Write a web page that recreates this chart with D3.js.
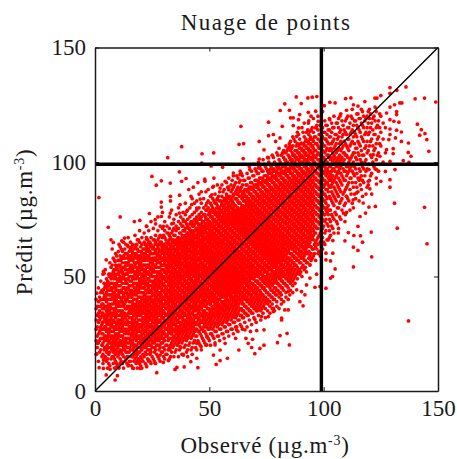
<!DOCTYPE html>
<html><head><meta charset="utf-8">
<script src="https://cdn.jsdelivr.net/npm/d3@7"></script>
<style>
html,body{margin:0;padding:0;background:#fff}
svg{display:block}
text{font-family:"Liberation Serif",serif;fill:#1a1a1a}
</style></head><body><svg id="c" width="457" height="459"></svg>
<script>
const titleText = "Nuage de points";
const xLabel = "Observé (µg.m";
const yLabel = "Prédit (µg.m";
const tickValues = [0, 50, 100, 150];
const thresholds = [99];

// isolated points
const fringeObserved = [37.9,31.8,46.8,51.9,1.7,24.9,36.9,29,26.8,32.9,37.9,39.8,46.7,50.8,55.8,48,52,45,41,43,11,17.2,19.6,23.8,5.8,29,29,33,33,37,42,46.5,
88,93.1,95,97,90.2,83,85,81,63.8,75.9,81.9,63,65,71.8,73.9,75.9,78,64.8,71.8,75.9,79,85.5,86.7,89.5,89,93.3,96.5,97.6,93.3,89,86.7,
129,129,132,136,140,144.1,149,125,122.4,123.3,131,129,133.3,134.2,131.9,131.9,127.5,129,130.7,132.9,141,142.7,142,144.3,145.1,146,129,131.9,134,129,131.4,128.5,134,137.1,130.4,137,138.2,134.8,137.3,129,130.4,124.6,121.7,127.5,
109.6,111.9,102.7,105,100.3,118,115,113,110,107.1,102.7,
129,129,125,123.1,120.2,131.2,127,123.1,119.8,131,144.1,122.6,119.8,118.3,132.2,115.9,115,109.3,105.6,
145.2,137.1,121,113,105,103,103.9,117,115,113,109.3,120.8,113.2,116.1,110.8,106.4,104,103,101,101,104,102,
101,98.4,96.2,94,96.9,91.8,89.6,91,85.2,85,84,80.9,79.8,73.9,73.9,72.1,69.9,68.5,67,62.9,68.9,61.5,66,84.5,81.6,78,75.8,69.9,64.1,70.7,68,
8.8,9.8,4.9,1.8,0.8,27,35,35.8,39,45,53,54.7,57.9,51.8,41.9,38.7,44.5,46.4,48.9,54.7,52.5,56.9,19.7,22.6,26.3,29.9,32.1,14.6,9.5,6.6,3.7,11,16.8,23.4,
0.8,4.9,3.7,4,7,8,11.7,12.9,14.2,18.3,19,22.6,10.2,8.8,8.1,1.5,1.9,1.1,2.2,3.7,5.9,2.5,
29,32.9,36.9,40.1,44.5,48.9,53.3,57.6,42.3,37.2,46,51.1,54.7,48.1,51.8,56.9,58.4,26.3,29.9,22.6,34.3,38.7,
60.5,63.4,67.7,71.4,76.5,82.3,80.9,85.2,88.2,90.3,94,96.9,
112.9,108.6,117.3,114.4,110,119.5,115.9,
94,90.3,88.2,84.5,80.9,83,73.6,78,72.8,81.6,65.6,61.9,92.5,
37.2,40.9,44.5,48.9,32.8,28.5,24.1,19.7,8.1,3.7,5.9];
const fringePredicted = [106.7,101.9,103.6,104,84.5,93.7,95.7,91.8,89.9,90.8,91.6,92.8,99.5,98.3,97.7,92.5,93,91,88,89,76,74,74.5,77.5,71.5,82.5,80.3,85,83,85.5,85,87,
128.4,128,128.3,128.6,125.5,125.4,122.6,122.5,115.6,117.4,115.6,107.7,108,109,105.3,111.5,112,101.5,101.3,101.8,109,119.3,119.3,120.7,118.5,121.7,122.2,117.8,117,114.9,115.9,
132.5,130,131.3,132.8,127.6,127.9,126.2,129,127.9,127.9,125,124,125.8,125.8,122,120.7,121.4,118.5,117.8,117.4,116.5,114.1,111.7,112.4,109.8,104.7,114.4,113.9,113.1,112,110.5,109.8,109,108.3,105.8,104.2,102.5,100.6,99.9,100.3,103.7,102.5,103.2,105.4,
127.7,128,126.1,125.8,124.6,126.4,124.4,125,122.6,120,118.5,
92.3,89,91.6,90.4,88.3,96.7,95.9,96.7,96.7,82,80.2,80.6,80.3,77.7,71.1,76.2,71.9,74,74,
64.3,30.6,58.6,54.2,53.3,49.3,50,65,61.4,62.8,65.6,69.4,67.9,67.8,69.2,69,60.2,56.8,57.3,60.2,65.7,66,
44.9,45.6,45.3,49.3,51,42,39,37.2,42,20.1,25.2,24.2,21.1,26.7,20,18.6,16.3,19,20.8,17.9,22.6,23,23,35.4,31,34.7,32.5,31.3,28.1,26.4,26,
4.8,6.7,7,10.2,16.2,8,9.4,10.3,10.5,10.2,11.6,13.3,14.3,15.7,12.8,15.7,14.3,19.4,20.1,17.9,20.1,20.8,9.9,10.6,12.1,12.5,13.3,11.4,10.6,9.5,9.9,12.1,9.9,13.6,
42.7,57.3,52.2,51.4,66,64.9,65.6,66.8,63.6,63.8,66,66.3,60.9,56.6,52.2,36.9,32.5,20.8,26.7,44.2,46.3,39.8,
76.2,77.7,77.7,78.4,79.9,82.1,83.5,85,81.4,81.4,83.8,85.7,88.6,91.6,89.4,91.6,87.9,74.8,71.9,71.9,73.3,74.1,
95.2,94.5,96.7,97.4,96.7,103.9,110.5,106.9,111.2,108.3,113.4,114.9,
83.5,77.7,82.1,86.5,85,91.6,93,
55.1,43.4,44.2,43.4,42.7,35.4,36.9,36.1,32.5,31.8,26.7,26.7,46.3,
19.4,23.7,20.8,23.7,17.9,15.7,16.5,12.8,15,13.5,16.5];

// dense cloud: individual points cannot be resolved here, so values are hand estimates by observed value
const coreObserved = [1,2,3,4,5,6,7,8,9,10,11,12,13,14,15,16,17,18,19,20,21,22,23,24,25,26,27,28,29,30,31,32,33,34,35,36,37,38,39,40,41,42,43,44,45,46,47,48,49,50,51,52,53,54,55,56,57,58,59,60,61,62,63,64,65,66,67,68,69,70,71,72,73,74,75,76,77,78,79,80,81,82,83,84,85,86,87,88,89,90,91,92,93,94,95,96,97,98,99,100,101,102,103,104,105,106,107,108,109,110,111,112,113,114,115,116,117,118,119,120,121,122,123,124,125,126,127];
const corePredicted = [
[19,24,28,33,37],[17,22,26,31,35,41],[15,20,25,29,34,38,44],[14,18,23,27,32,36,41,47],[13,17,22,26,30,35,39,43,49],
[12,16,21,25,29,33,38,42,46,51],[14,19,24,28,32,36,40,45,49,54],[12,17,22,26,30,34,38,43,47,52,58],[13,16,20,25,28,32,36,41,45,50,55,60],[11,15,19,23,27,31,35,39,44,48,53,57],
[14,18,22,26,29,33,37,41,46,50,55,59,63],[12,16,20,24,28,32,35,39,43,47,52,56,61],[13,18,21,25,30,34,38,41,45,49,54,58,62],[12,15,19,23,27,31,36,40,43,47,51,56,60],[13,17,21,25,28,32,35,39,42,46,50,53,57,61],
[11,15,20,24,27,30,34,37,41,44,48,52,55,59,63],[13,16,19,23,26,29,33,36,40,43,47,50,54,58,62],[12,15,18,22,25,28,32,35,38,42,45,49,52,56,60,64],[14,17,21,24,27,31,34,37,41,44,47,51,54,57,61],[11,15,19,22,26,29,33,36,39,43,46,49,53,56,59,63],
[13,16,20,23,27,30,32,35,38,41,45,48,51,55,58,62],[12,17,21,24,28,31,34,37,40,42,46,50,53,57,60,64],[14,18,22,25,27,30,33,36,39,43,47,49,52,55,59,62,66],[13,16,20,23,26,29,32,35,38,41,44,48,51,54,58,61,65],[15,19,22,26,28,31,34,37,40,43,46,50,53,56,60,63],
[13,17,21,24,27,30,33,36,39,42,45,48,52,55,58,62,66],[16,20,23,26,29,32,35,38,41,44,47,50,54,57,60,64],[14,18,22,25,28,31,34,37,40,43,46,49,52,56,59,62,67],[17,21,24,27,30,33,36,39,42,45,48,51,55,58,61,65],[15,19,23,26,29,32,35,38,41,44,47,50,53,57,60,63,68],
[16,20,24,27,30,33,36,39,42,45,48,52,55,58,62,66],[18,22,25,28,31,34,37,40,43,46,49,52,55,58,61,64,69],[15,20,23,27,30,33,36,39,42,45,48,51,54,57,60,63,67],[19,22,26,29,32,35,38,41,44,47,50,53,56,59,62,65,70],[17,21,24,27,31,34,37,40,43,46,49,52,55,58,61,64,68],
[20,23,26,30,33,36,39,42,45,48,51,54,57,60,63,66,71],[18,22,25,28,32,35,38,41,44,47,50,53,56,59,62,65,69],[16,21,24,27,30,34,37,40,43,46,49,52,55,58,61,64,67,72],[19,23,26,29,33,36,39,42,45,48,51,54,57,60,63,66,70],[17,22,25,28,31,35,38,41,44,47,50,53,56,59,62,65,68,73],
[20,24,27,30,34,37,40,43,46,49,52,55,58,61,64,67,71],[18,23,26,29,32,36,39,42,45,48,51,54,57,60,63,66,69,74],[21,25,28,31,35,38,41,44,47,50,53,56,59,62,65,68,72],[19,24,27,30,33,37,40,43,46,49,52,55,58,61,64,67,70,75],[22,26,29,32,36,39,42,45,48,51,54,57,60,63,66,69,73],
[20,25,28,31,34,38,41,44,47,50,53,56,59,62,65,68,71,76],[23,27,30,33,37,40,43,46,49,52,55,58,61,64,67,70,74],[21,26,29,32,35,39,42,45,48,51,54,57,60,63,66,69,72,77],[24,28,31,34,38,41,44,47,50,53,56,59,62,65,68,71,75,79],[22,27,30,33,36,40,43,46,49,52,55,58,61,64,67,70,73,78],
[25,29,32,35,39,42,45,48,51,54,57,60,63,66,69,72,76,81],[23,28,31,34,37,41,44,47,50,53,56,59,62,65,68,71,74,79,83],[26,30,33,36,40,43,46,49,52,55,58,61,64,67,70,73,77,82],[24,29,32,35,38,42,45,48,51,54,57,60,63,66,69,72,75,80,85],[27,31,34,37,41,44,47,50,53,56,59,62,65,68,71,74,78,83],
[25,30,33,36,39,43,46,49,52,55,58,61,64,67,70,73,76,81,87],[28,32,35,38,42,45,48,51,54,57,60,63,66,69,72,75,79,84],[26,31,34,37,40,44,47,50,53,56,59,62,65,68,71,74,77,82,89],[29,33,36,39,43,46,49,52,55,58,61,64,67,70,73,76,80,85],[27,32,35,38,41,45,48,51,54,57,60,63,66,69,72,75,78,83,88,92],
[30,34,37,40,44,47,50,53,56,59,62,65,68,71,74,77,81,86,90],[28,33,36,39,42,46,49,52,55,58,61,64,67,70,73,76,79,84,88,94],[31,35,38,41,45,48,51,54,57,60,63,66,69,72,75,78,82,87,91],[33,36,40,43,47,50,53,56,59,62,65,68,71,74,77,80,85,89,95],[32,35,38,42,45,49,52,55,58,61,64,67,70,73,76,79,83,87,92],
[34,37,41,44,48,51,54,57,60,63,66,69,72,75,78,81,85,90],[33,36,39,43,46,50,53,56,59,62,65,68,71,74,77,80,83,88,93],[35,38,42,45,49,52,55,58,61,64,67,70,73,76,79,82,86,91],[34,37,40,44,47,51,54,57,60,63,66,69,72,75,78,81,84,89,94],[36,39,43,46,50,53,56,59,62,65,68,71,74,77,80,83,87,92,97],
[35,38,41,45,48,52,55,58,61,64,67,70,73,76,79,82,85,90,95],[37,40,44,47,51,54,57,60,63,66,69,72,75,78,81,84,88,93,98],[36,39,42,46,49,53,56,59,62,65,68,71,74,77,80,83,86,91,96],[38,41,45,48,52,55,58,61,64,67,70,73,76,79,82,85,89,94,99],[40,43,47,50,54,57,60,63,66,69,72,75,78,81,84,87,92,97],
[39,42,46,49,53,56,59,62,65,68,71,74,77,80,83,86,90,95,100],[41,44,48,51,55,58,61,64,67,70,73,76,79,82,85,88,93,98],[40,43,47,50,54,57,60,63,66,69,72,75,78,81,84,87,91,96,102],[42,45,49,52,56,59,62,65,68,71,74,77,80,83,86,89,94,99],[44,47,51,54,58,61,64,67,70,73,76,79,82,85,88,92,97,103],
[43,46,50,53,57,60,63,66,69,72,75,78,81,84,87,90,95,100],[45,48,52,55,59,62,65,68,71,74,77,80,83,86,89,93,98,104],[47,50,54,57,61,64,67,70,73,76,79,82,85,88,91,96,101],[46,49,53,56,60,63,66,69,72,75,78,81,84,87,90,94,99,105],[48,51,55,58,62,65,68,71,74,77,80,83,86,89,92,97,102,108],
[50,53,57,60,64,67,70,73,76,79,82,85,88,91,95,100,106],[49,52,56,59,63,66,69,72,75,78,81,84,87,90,93,98,103,110],[51,55,58,62,65,68,71,74,77,80,83,86,89,92,96,101,107],[53,57,60,64,67,70,73,76,79,82,85,88,91,94,99,104,112],[52,56,59,63,66,69,72,75,78,81,84,87,90,93,97,102,108],
[55,58,62,65,68,71,74,77,80,83,86,89,92,95,100,105,113],[54,57,61,64,67,70,73,76,79,82,85,88,91,94,98,103,109],[56,60,63,66,69,72,75,78,81,84,87,90,93,96,101,106,114],[55,59,65,68,71,74,77,80,83,86,89,92,95,99,104,110],[58,62,67,70,73,76,79,82,85,88,91,94,97,102,107,115],
[60,64,69,72,75,78,81,84,87,90,93,96,100,105,111],[62,66,71,74,77,80,83,86,89,92,95,98,103,108,116],[61,68,73,76,79,82,85,88,91,94,97,101,106,112],[63,70,75,78,81,84,87,90,93,96,99,104,109,117],[65,72,77,80,83,86,89,92,95,98,102,107,113],
[70,75,79,82,85,88,91,94,97,100,105,110,116],[72,77,81,87,90,93,96,99,103,108,114],[68,74,79,84,89,92,95,98,101,106,111],[71,76,82,86,91,94,97,100,104,109,115],[78,84,88,93,96,99,102,107,112],
[73,80,86,90,95,98,101,105,110,117],[76,82,88,92,97,100,103,108,113],[79,84,90,94,99,102,106,111,118],[81,87,92,96,101,104,109,114],[78,85,89,94,98,103,107,112,119],
[83,91,96,100,105,110,115],[86,93,98,102,108,113,120],[80,89,95,100,104,111,116],[84,91,97,102,106,112,118],[87,93,99,104,109,115,121],
[90,96,101,107,113,119],[85,92,98,103,110,116,122],[94,100,106,112,118],[89,97,104,109,115,120],[92,99,107,113,119,123],
[86,95,102,110,117],[98,105,112,120],[93,101,108,115,122],[96,104,111,118],[107,113,120],[100,110,117],[104,115]];

// second hand-estimated layer of the dense cloud, between the columns above
const fillObserved = [0.5,1.5,2.5,3.5,4.5,5.5,6.5,7.5,8.5,9.5,10.5,11.5,12.5,13.5,14.5,15.5,16.5,17.5,18.5,19.5,20.5,21.5,22.5,23.5,24.5,25.5,26.5,27.5,28.5,29.5,30.5,31.5,32.5,33.5,34.5,35.5,36.5,37.5,38.5,39.5,40.5,41.5,42.5,43.5,44.5,45.5,46.5,47.5,48.5,49.5,50.5,51.5,52.5,53.5,54.5,55.5,56.5,57.5,58.5,59.5,60.5,61.5,62.5,63.5,64.5,65.5,66.5,67.5,68.5,69.5,70.5,71.5,72.5,73.5,74.5,75.5,76.5,77.5,78.5,79.5,80.5,81.5,82.5,83.5,84.5,85.5,86.5,87.5,88.5,89.5,90.5,91.5,92.5,93.5,94.5,95.5,96.5,97.5,98.5,99.5,100.5,101.5,102.5,103.5,104.5,105.5,106.5,107.5,108.5,109.5,110.5,111.5,112.5,113.5,114.5,115.5,116.5,117.5,118.5,119.5,120.5,121.5,122.5,123.5,124.5];
const fillPredicted = [
[16,22,27,31,36,40],[13,21,25,30,34,39,45],[18,23,28,32,37,43,48],[12,16,21,25,30,34,38,44,51],[15,19,24,28,33,37,41,46,53],
[10,14,19,23,27,31,36,40,44,48],[11,17,21,26,30,34,37,42,47,51,56],[15,20,24,28,33,36,41,45,50,55,62],[10,14,18,23,27,30,35,39,43,46,51,57],[12,17,21,25,29,33,37,42,46,51,54,59],
[10,16,20,24,28,31,35,38,43,48,52,57,64],[13,17,21,24,30,34,37,40,44,49,53,58,62],[10,15,19,23,27,30,33,37,42,45,50,54,59,65],[14,17,22,26,29,33,36,39,44,48,51,55,60,64],[11,15,19,23,26,30,34,37,41,45,49,52,56,59,63,67],
[13,18,22,25,28,32,36,39,43,46,50,54,58,62,65],[10,15,18,21,25,28,31,35,38,42,46,49,53,57,60,64],[14,17,20,24,27,30,34,37,40,44,47,51,55,59,63,68],[10,13,16,19,23,26,29,33,36,39,43,46,50,53,56,59,62,66],[12,17,21,24,28,31,35,38,41,45,48,52,55,58,61,65,70],
[10,14,18,21,25,28,31,34,37,40,43,47,50,54,57,60,64,67],[15,19,23,26,29,32,36,39,42,45,49,52,55,59,62,65,69],[11,16,20,24,27,29,32,35,38,41,44,47,51,54,58,61,63,67,72],[13,18,21,25,28,31,34,37,40,43,46,49,52,55,59,62,65,70],[12,17,20,23,26,29,33,36,39,41,44,48,51,54,57,60,64,67,74],
[14,19,22,25,28,32,35,38,42,45,47,50,53,57,60,63,66,71],[12,18,22,25,28,31,34,37,40,43,46,49,52,55,58,61,65,68,73],[15,20,24,27,30,33,36,39,42,45,48,51,54,57,60,63,66,70,76],[13,19,23,26,28,31,35,38,41,43,47,50,52,56,59,61,65,68,72],[17,21,25,28,32,34,37,40,44,46,49,53,55,58,62,64,67,71,78],
[14,18,22,25,29,31,34,38,41,43,46,49,52,56,59,61,64,67,70,74],[16,20,24,27,30,33,36,38,41,44,48,50,53,57,60,62,65,69,72],[14,19,23,26,29,32,35,39,41,44,47,50,54,56,59,62,66,68,71,76],[17,21,25,28,31,34,37,40,43,46,49,52,55,58,60,63,66,69,73,79],[15,20,23,26,29,32,36,39,42,44,48,51,53,56,59,62,65,68,71,75],
[18,22,25,28,31,34,37,41,43,46,50,52,55,57,61,64,66,70,72,77],[15,21,24,27,30,33,37,40,42,45,47,51,54,56,59,62,65,67,71,74,80],[19,23,26,29,32,35,39,41,44,47,49,52,55,58,60,64,66,69,73,76],[16,22,25,28,31,34,38,40,43,46,50,53,56,59,61,63,67,70,72,75,78],[20,24,27,30,33,36,39,41,45,48,51,54,57,60,62,65,68,71,74,77,82],
[15,18,23,26,29,32,36,38,42,44,47,50,52,55,58,61,64,67,69,72,75,79],[21,25,28,31,33,37,40,43,45,49,51,54,56,59,62,66,68,70,73,76,80],[16,19,24,27,30,34,37,41,44,46,48,53,55,58,60,63,65,69,72,74,77,84],[22,26,29,32,35,38,40,43,47,50,52,56,59,61,64,67,70,73,75,78,82],[18,24,27,30,33,36,39,42,45,48,51,54,57,60,63,65,68,71,74,76,79,83],
[21,26,29,32,35,37,41,43,46,50,53,55,58,61,64,66,69,72,75,77,80,86],[18,24,27,30,33,36,39,42,45,47,51,54,56,59,62,65,68,70,73,76,78,82],[22,26,28,31,34,38,40,44,46,49,52,55,58,60,63,66,69,72,74,77,80,84],[20,25,28,30,33,37,41,43,45,48,50,53,57,59,62,64,67,71,73,75,79,81,87],[23,27,29,32,36,39,42,44,47,50,52,56,58,61,63,66,69,72,74,77,80,83,88],
[20,25,28,31,34,38,41,43,46,49,51,54,57,60,62,65,68,70,73,76,79,82,85],[24,27,30,33,36,40,42,45,48,50,53,56,59,61,64,67,69,72,75,78,80,84,89],[21,26,29,32,35,38,41,44,46,49,52,55,58,60,63,66,68,71,74,77,79,82,86],[24,28,31,34,37,39,43,45,48,51,54,57,59,62,65,67,70,73,76,78,81,84,90],[22,27,30,33,36,40,42,44,47,50,53,56,60,61,64,66,69,72,75,77,80,83,87],
[25,29,32,35,38,41,43,46,49,52,55,57,60,63,65,68,71,74,76,79,82,85,90],[23,28,31,34,37,39,42,45,48,51,54,58,59,62,66,67,70,73,75,78,81,84,88],[26,30,33,36,39,41,44,47,50,53,56,58,61,64,67,69,72,74,77,80,83,86,91],[24,29,32,35,38,42,43,46,49,52,55,57,60,63,65,68,71,73,76,79,82,85,89,93],[27,31,34,37,40,42,45,48,51,54,56,59,62,64,67,70,73,75,78,81,84,87,90],
[25,30,33,36,39,41,44,47,50,53,55,58,61,63,66,69,72,74,77,80,82,86,89,94],[28,32,35,38,41,43,46,49,52,54,57,60,62,65,68,71,73,76,79,81,84,87,91],[26,31,34,37,40,43,45,48,51,53,56,59,61,64,67,70,72,75,78,80,83,86,89,93],[29,33,36,39,42,44,47,50,52,55,58,60,63,66,69,71,74,77,79,82,85,88,92,96],[27,32,35,38,41,43,46,49,51,54,57,59,62,65,68,70,73,76,78,81,84,86,90,94],
[30,34,37,40,42,45,48,50,53,56,58,61,64,67,69,72,75,77,80,83,85,88,92],[28,33,36,39,41,44,47,49,52,55,57,60,63,66,68,71,74,76,79,82,84,87,90,95],[31,35,38,40,43,46,48,51,54,56,59,62,65,67,70,73,75,78,81,83,86,89,93,98],[29,34,37,39,42,45,47,50,53,55,58,61,64,66,69,72,74,77,80,82,85,88,91,96],[32,36,38,41,44,46,49,52,54,57,60,63,65,68,71,73,76,79,81,84,87,90,94,99],
[30,35,37,40,43,45,48,51,53,56,59,62,64,67,70,72,75,78,80,83,86,89,92,96],[33,36,39,42,44,47,50,52,55,58,61,63,66,69,71,74,77,79,82,85,88,91,95,100],[31,35,38,41,43,46,49,51,54,57,60,62,65,68,70,73,76,78,81,84,87,90,93,97],[34,37,40,42,45,48,50,53,56,59,61,64,67,69,72,75,77,80,83,86,89,92,96,101],[32,36,39,41,44,47,49,52,55,58,60,63,66,68,71,74,76,79,82,85,88,91,94,98],
[35,38,40,43,46,48,51,54,57,59,62,65,67,70,73,75,78,81,84,87,90,93,96,102],[34,37,39,42,45,47,50,53,56,58,61,64,66,69,72,74,77,80,83,86,89,92,95,99],[36,38,41,44,46,49,52,55,57,60,63,65,68,71,73,76,79,82,85,88,91,94,97,103],[35,40,43,45,48,51,54,56,59,62,64,67,70,72,75,78,81,84,87,90,93,96,100],[37,39,42,44,47,50,53,55,58,61,63,66,69,71,74,77,80,83,86,89,92,95,98,104],
[36,41,43,46,49,52,54,57,60,62,65,68,70,73,76,79,82,85,88,91,94,97,101,106],[38,40,42,45,48,51,53,56,59,61,64,67,69,72,75,78,81,84,87,90,93,96,99,103],[39,44,47,50,52,55,58,60,63,66,68,71,74,77,80,83,86,89,92,95,98,102,105],[41,43,46,49,51,54,57,59,62,65,67,70,73,76,79,82,85,88,91,94,97,100,104,107],[40,45,48,50,53,56,58,61,64,66,69,72,75,78,81,84,87,90,93,96,99,103,106],
[44,47,49,52,55,57,60,63,65,68,71,74,77,80,83,86,89,92,95,98,101,105,109],[43,46,48,51,54,56,59,62,64,67,70,73,76,79,82,85,88,91,94,97,100,103,107,111],[47,50,53,55,58,61,63,66,69,72,75,78,81,84,87,90,93,96,99,102,105,109],[49,52,54,57,60,62,65,68,71,74,77,80,83,86,89,92,95,98,101,104,108,113],[51,53,56,59,61,64,67,70,73,76,79,82,85,88,91,94,97,100,103,106,110],
[50,54,58,60,63,66,69,72,75,78,81,84,87,90,93,96,99,102,105,108,115],[53,57,59,62,65,68,71,74,77,80,83,86,89,92,95,98,101,104,107,111,117],[52,56,60,63,65,67,70,73,76,79,82,85,88,91,94,97,100,103,106,109,113],[58,61,64,66,69,72,75,78,81,84,87,90,93,96,99,102,105,108,112,118],[57,60,63,67,70,71,74,77,80,83,86,89,92,95,98,101,104,107,110,114,120],
[59,62,66,68,70,73,76,79,82,85,88,91,94,97,100,103,106,109,113,119],[57,63,65,69,72,75,78,81,84,87,90,93,96,99,102,105,108,111,115],[60,64,67,71,74,77,80,83,86,89,92,95,98,101,104,107,110,114,120],[59,65,69,73,76,79,82,85,88,91,94,97,100,103,106,109,112,116],[62,67,71,75,78,81,84,87,90,93,96,99,102,105,108,111,115,122],
[64,69,74,77,80,83,86,90,92,96,98,101,104,107,110,113,118],[66,73,78,80,84,88,91,95,97,100,103,106,109,112,116],[67,70,75,79,85,89,92,94,98,102,105,108,111,114,119],[72,77,83,87,90,93,96,99,102,105,108,113,117],[69,75,81,85,89,92,97,101,103,106,110,115,120],
[77,83,87,91,94,98,100,104,108,112,117],[71,80,85,89,93,96,99,102,106,111,115,119],[75,83,87,91,95,98,101,105,109,114,121],[86,93,97,100,104,107,112,116],[77,82,88,92,96,99,103,108,113,118],
[84,90,95,98,102,106,110,115,120],[79,88,93,97,101,107,112,117],[82,91,96,99,103,109,114,119,123],[86,94,98,104,108,113,118],[89,95,101,106,111,116,121],
[83,92,97,103,108,114,119],[88,94,100,105,111,117,123],[91,97,103,109,115,120],[86,96,101,107,113,119],[90,99,105,112,117,122],
[94,103,109,115,121],[100,107,114,119],[97,106,112,118,124],[103,110,116],[99,108,115,121]];

// third hand-estimated layer, closing the remaining gaps in the solid part of the cloud
const solidObserved = [3.25,4.25,5.25,6.25,7.25,8.25,9.25,10.25,11.25,12.25,13.25,14.25,15.25,16.25,17.25,18.25,19.25,20.25,21.25,22.25,23.25,24.25,25.25,26.25,27.25,28.25,29.25,30.25,31.25,32.25,33.25,34.25,35.25,36.25,37.25,38.25,39.25,40.25,41.25,42.25,43.25,44.25,45.25,46.25,47.25,48.25,49.25,50.25,51.25,52.25,53.25,54.25,55.25,56.25,57.25,58.25,59.25,60.25,61.25,62.25,63.25,64.25,65.25,66.25,67.25,68.25,69.25,70.25,71.25,72.25,73.25,74.25,75.25,76.25,77.25,78.25,79.25,80.25,81.25,82.25,83.25,84.25,85.25,86.25,87.25,88.25,89.25,90.25,91.25,92.25,93.25,94.25,95.25];
const solidPredicted = [
[20,23,27,30,33,36,40,43],[19,22,24,28,31,33,37,40,42,45],[18,20,24,27,29,32,34,37,42,45,47],[19,22,24,27,31,35,37,40,44,47,50],[18,21,23,26,29,31,34,38,42,44,47,51],
[19,21,24,28,31,33,36,40,42,45,49,53],[18,22,24,27,30,34,38,40,44,47,49,53],[17,21,25,29,30,33,37,41,42,46,49,51,55],[20,24,27,31,35,39,43,44,48,52,54,57],[18,22,26,29,31,34,38,41,45,49,51,54,58],
[20,23,27,32,36,40,43,47,51,53,56,60],[17,21,25,29,33,37,42,45,49,53,55,58],[19,23,27,30,34,37,41,44,48,52,55,59],[18,22,26,29,32,36,39,43,46,50,54,57,61],[20,24,28,31,35,38,42,45,49,52,56,60],
[17,20,24,27,30,34,37,40,44,47,51,54,58,62],[19,23,26,29,33,36,39,43,46,49,53,56,59],[18,21,24,28,31,35,38,41,45,48,51,55,58,61],[19,22,25,29,34,37,40,43,47,50,53,57,60],[19,23,26,30,33,36,39,44,48,52,55,59,62],
[20,24,28,32,35,38,41,45,51,54,57,61,64],[18,22,25,28,31,34,37,40,43,46,50,53,56,60,63],[21,24,27,30,33,36,39,42,45,48,52,55,58,62],[19,23,26,29,32,35,38,41,44,47,50,54,57,60,64],[22,25,28,31,34,37,40,43,46,49,52,56,59,62],
[20,24,27,30,33,36,39,42,45,48,51,54,58,61,64],[23,26,29,32,35,38,41,44,47,50,53,57,60,63],[22,25,28,31,34,37,40,43,46,49,52,55,58,61,64],[24,27,30,33,36,39,42,45,48,51,54,57,60,63],[23,26,29,32,35,38,41,44,47,50,53,56,59,62,65],
[25,28,31,34,37,40,43,46,49,52,55,58,61,64],[24,27,30,33,36,39,42,45,48,51,54,57,60,63,66],[26,29,32,35,38,41,44,47,50,53,56,59,62,65],[25,28,31,34,37,40,43,46,49,52,55,58,61,64,67],[27,30,33,36,39,42,45,48,51,54,57,60,63,66],
[26,29,32,35,38,41,44,47,50,53,56,59,62,65,68],[28,31,34,37,40,43,46,49,52,55,58,61,64,67,70],[27,30,33,36,39,42,45,48,51,54,57,60,63,66,69],[29,32,35,38,41,44,47,50,53,56,59,62,65,68,71],[28,31,34,37,40,43,46,49,52,55,58,61,64,67,70,73],
[30,33,36,39,42,45,48,51,54,57,60,63,66,69,72],[29,32,35,38,41,44,47,50,53,56,59,62,65,68,71,74],[31,34,37,40,43,46,49,52,55,58,61,64,67,70,73],[30,33,36,39,42,45,48,51,54,57,60,63,66,69,72,75],[32,35,38,41,44,47,50,53,56,59,62,65,68,71,74],
[31,34,37,40,43,46,49,52,55,58,61,64,67,70,73,76],[33,36,39,42,45,48,51,54,57,60,63,66,69,72,75],[32,35,38,41,44,47,50,53,56,59,62,65,68,71,74,77],[34,37,40,43,46,49,52,55,58,61,64,67,70,73,76,79],[33,36,39,42,45,48,51,54,57,60,63,66,69,72,75,78],
[35,38,41,44,47,50,53,56,59,62,65,68,71,74,77,80],[34,37,40,43,46,49,52,55,58,61,64,67,70,73,76,79],[36,39,42,45,48,51,54,57,60,63,66,69,72,75,78,81],[35,38,41,44,47,50,53,56,59,62,65,68,71,74,77,80,83],[37,40,43,46,49,52,55,58,61,64,67,70,73,76,79,82],
[36,39,42,45,48,51,54,57,60,63,66,69,72,75,78,81,84],[38,41,44,47,50,53,56,59,62,65,68,71,74,77,80,83],[37,40,43,46,49,52,55,58,61,64,67,70,73,76,79,82,85],[39,42,45,48,51,54,57,60,63,66,69,72,75,78,81,84],[38,41,44,47,50,53,56,59,62,65,68,71,74,77,80,83,86],
[40,43,46,49,52,55,58,61,64,67,70,73,76,79,82,85],[39,42,45,48,51,54,57,60,63,66,69,72,75,78,81,84,87],[41,44,47,50,53,56,59,62,65,68,71,74,77,80,83,86],[40,43,46,49,52,55,58,61,64,67,70,73,76,79,82,85,88],[42,45,48,51,54,57,60,63,66,69,72,75,78,81,84,87],
[41,44,47,50,53,56,59,62,65,68,71,74,77,80,83,86,89],[43,46,49,52,55,58,61,64,67,70,73,76,79,82,85,88],[42,45,48,51,54,57,60,63,66,69,72,75,78,81,84,87,90],[44,47,50,53,56,59,62,65,68,71,74,77,80,83,86,89,92],[43,46,49,52,55,58,61,64,67,70,73,76,79,82,85,88,91],
[45,48,51,54,57,60,63,66,69,72,75,78,81,84,87,90,93],[44,47,50,53,56,59,62,65,68,71,74,77,80,83,86,89,92],[46,49,52,55,58,61,64,67,70,73,76,79,82,85,88,91,94],[48,51,54,57,60,63,66,69,72,75,78,81,84,87,90,93,96],[47,50,53,56,59,62,65,68,71,74,77,80,83,86,89,92,95],
[49,52,55,58,61,64,67,70,73,76,79,82,85,88,91,94,97],[48,51,54,57,60,63,66,69,72,75,78,81,84,87,90,93,96],[50,53,56,59,62,65,68,71,74,77,80,83,86,89,92,95,98],[49,52,55,58,61,64,67,70,73,76,79,82,85,88,91,94,97],[51,54,57,60,63,66,69,72,75,78,81,84,87,90,93,96,99],
[53,56,59,62,65,68,71,74,77,80,83,86,89,92,95,98,101],[52,55,58,61,64,67,70,73,76,79,82,85,88,91,94,97,100],[54,57,60,63,66,69,72,75,78,81,84,87,90,93,96,99,102],[56,59,62,65,68,71,74,77,80,83,86,89,92,95,98,101,104],[55,58,61,64,67,70,73,76,79,82,85,88,91,94,97,100,103],
[57,60,63,66,69,72,75,78,81,84,87,90,93,96,99,102,105],[59,62,65,68,71,74,77,80,83,86,89,92,95,98,101,104,107],[58,61,64,67,70,73,76,79,82,85,88,91,94,97,100,103,106],[60,63,66,69,72,75,78,81,84,87,90,93,96,99,102,105,108],[62,65,68,71,74,77,80,83,86,89,92,95,98,101,104,107,110],
[64,67,70,73,76,79,82,85,88,91,94,97,100,103,106,109],[63,66,69,72,75,78,81,84,87,90,93,96,99,102,105,108,111],[68,71,74,77,80,83,86,89,92,95,98,101,104,107,110]];

const W = 457, H = 459, m = {l: 95, r: 438, t: 47.5, b: 391};
const svg = d3.select("#c");
const x = d3.scaleLinear().domain([0, 150]).range([m.l, m.r]);
const y = d3.scaleLinear().domain([0, 150]).range([m.b, m.t]);

const points = [];
coreObserved.forEach((o, i) => corePredicted[i].forEach(p => points.push([o, p])));
fillObserved.forEach((o, i) => fillPredicted[i].forEach(p => points.push([o, p])));
solidObserved.forEach((o, i) => solidPredicted[i].forEach(p => points.push([o, p])));
fringeObserved.forEach((o, i) => points.push([o, fringePredicted[i]]));

svg.append("g").selectAll("circle").data(points).join("circle")
  .attr("cx", d => x(d[0])).attr("cy", d => y(d[1])).attr("r", 1.85).attr("fill", "#ff0000");

svg.append("line").attr("x1", x(0)).attr("y1", y(0)).attr("x2", x(150)).attr("y2", y(150))
  .attr("stroke", "#000").attr("stroke-width", 1.4);
thresholds.forEach(t => {
  svg.append("line").attr("x1", x(t)).attr("x2", x(t)).attr("y1", y(0)).attr("y2", y(150)).attr("stroke", "#000").attr("stroke-width", 3.4);
  svg.append("line").attr("x1", x(0)).attr("x2", x(150)).attr("y1", y(t)).attr("y2", y(t)).attr("stroke", "#000").attr("stroke-width", 3.4);
});

function style(g, labels) {
  g.select(".domain").attr("stroke", "#1a1a1a").attr("stroke-width", 1.5);
  g.selectAll(".tick line").attr("stroke", "#1a1a1a").attr("stroke-width", 1);
  g.selectAll(".tick text").attr("font-size", 23).attr("font-family", '"Liberation Serif",serif').attr("fill", "#1a1a1a");
  if (!labels) g.selectAll(".tick text").remove();
}
const axis = (gen, sc) => gen(sc).tickValues(tickValues).tickSizeInner(-4).tickSizeOuter(0).tickPadding(9);
svg.append("g").attr("transform", `translate(0,${m.b})`).call(axis(d3.axisBottom, x)).call(style, true);
svg.append("g").attr("transform", `translate(${m.l},0)`).call(axis(d3.axisLeft, y)).call(style, true);
svg.append("g").attr("transform", `translate(0,${m.t})`).call(axis(d3.axisTop, x)).call(style, false);
svg.append("g").attr("transform", `translate(${m.r},0)`).call(axis(d3.axisRight, y)).call(style, false);

svg.append("text").attr("x", 266).attr("y", 30).attr("text-anchor", "middle").attr("font-size", 23).attr("letter-spacing", 1.4).text(titleText);

const xl = svg.append("text").attr("x", 265).attr("y", 453).attr("text-anchor", "middle").attr("font-size", 23).attr("letter-spacing", 0.7);
xl.append("tspan").text(xLabel);
xl.append("tspan").attr("dy", -8).attr("font-size", 14).text("-3");
xl.append("tspan").attr("dy", 8).text(")");

const yl = svg.append("text").attr("transform", "translate(32,222) rotate(-90)").attr("text-anchor", "middle").attr("font-size", 23).attr("letter-spacing", 0.7);
yl.append("tspan").text(yLabel);
yl.append("tspan").attr("dy", -8).attr("font-size", 14).text("-3");
yl.append("tspan").attr("dy", 8).text(")");
</script></body></html>
